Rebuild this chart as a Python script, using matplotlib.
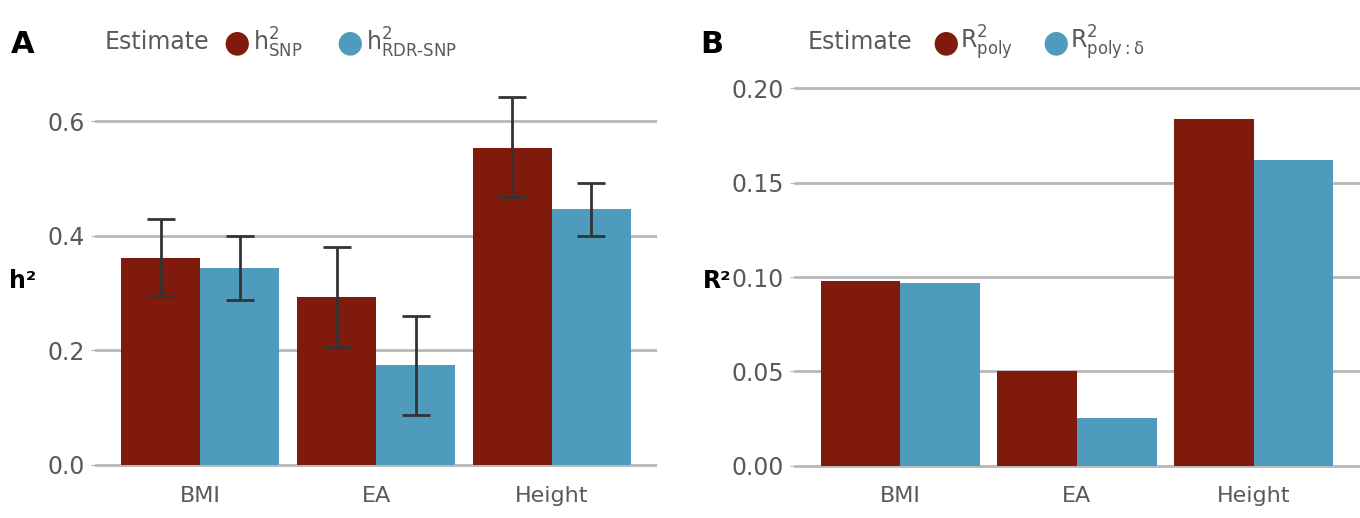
import matplotlib.pyplot as plt
import numpy as np

# ── Data ─────────────────────────────────────────────────────
traits = ["BMI", "EA", "Height"]

h2_snp     = [0.361, 0.293, 0.553]
h2_snp_lo  = [0.295, 0.206, 0.467]
h2_snp_hi  = [0.429, 0.380, 0.642]

h2_rdr     = [0.344, 0.174, 0.447]
h2_rdr_lo  = [0.288, 0.087, 0.399]
h2_rdr_hi  = [0.399, 0.260, 0.492]

r2_poly       = [0.098, 0.050, 0.184]
r2_poly_delta = [0.097, 0.025, 0.162]

RED  = "#801a0c"
BLUE = "#4f9bbd"
GREY = "#5a5a5a"
GRID = "#b8b8b8"

plt.rcParams["font.family"] = ["DejaVu Sans"]

fig = plt.figure(figsize=(13.6, 5.18), dpi=100)
axA = fig.add_axes([0.0699, 0.0676, 0.4132, 0.78])
axB = fig.add_axes([0.5838, 0.0676, 0.4162, 0.78])

x = np.arange(1, len(traits) + 1)
w = 0.45


def style(ax, ticks, labels, ylim):
    ax.set_xlim(0.4, 3.6)
    ax.set_ylim(*ylim)
    ax.set_yticks(ticks)
    ax.set_yticklabels(labels)
    ax.set_xticks(x)
    ax.set_xticklabels(traits)
    for t in ticks:
        ax.axhline(t, color=GRID, lw=2, zorder=0)
    for s in ax.spines.values():
        s.set_visible(False)
    ax.tick_params(axis="y", length=3, color=GRID, labelsize=17, labelcolor=GREY, pad=4)
    ax.tick_params(axis="x", length=0, labelsize=16, labelcolor=GREY, pad=2)


# ── Panel A ──────────────────────────────────────────────────
axA.bar(x - w / 2, h2_snp, w, color=RED, zorder=2)
axA.bar(x + w / 2, h2_rdr, w, color=BLUE, zorder=2)
err_snp = [np.array(h2_snp) - np.array(h2_snp_lo), np.array(h2_snp_hi) - np.array(h2_snp)]
err_rdr = [np.array(h2_rdr) - np.array(h2_rdr_lo), np.array(h2_rdr_hi) - np.array(h2_rdr)]
axA.errorbar(x - w / 2, h2_snp, yerr=err_snp, fmt="none", ecolor="#333333",
             elinewidth=2, capsize=10, capthick=2, zorder=3)
axA.errorbar(x + w / 2, h2_rdr, yerr=err_rdr, fmt="none", ecolor="#333333",
             elinewidth=2, capsize=10, capthick=2, zorder=3)
style(axA, [0.0, 0.2, 0.4, 0.6], ["0.0", "0.2", "0.4", "0.6"], (-0.032, 0.674))
axA.set_ylabel("h²", rotation=0, fontsize=17, fontweight="bold", labelpad=18, va="center")

# ── Panel B ──────────────────────────────────────────────────
axB.bar(x - w / 2, r2_poly, w, color=RED, zorder=2)
axB.bar(x + w / 2, r2_poly_delta, w, color=BLUE, zorder=2)
style(axB, [0.0, 0.05, 0.10, 0.15, 0.20], ["0.00", "0.05", "0.10", "0.15", "0.20"],
      (-0.0092, 0.205))
axB.yaxis.set_label_coords(-0.135, 0.49)
axB.set_ylabel("R²", rotation=0, fontsize=17, fontweight="bold", va="center")

# ── Panel letters and legends ────────────────────────────────
fig.text(0.008, 0.915, "A", fontsize=22, fontweight="bold", va="center")
fig.text(0.515, 0.915, "B", fontsize=22, fontweight="bold", va="center")

ly = 0.918
fig.text(0.077, ly, "Estimate", fontsize=17, color=GREY, va="center")
for xp, col in [(0.174, RED), (0.257, BLUE), (0.695, RED), (0.776, BLUE)]:
    fig.text(xp, ly, "●", fontsize=22, color=col, va="center", ha="center")
fig.text(0.186, ly, r"$\mathregular{h^2_{SNP}}$", fontsize=17, color=GREY, va="center")
fig.text(0.269, ly, r"$\mathregular{h^2_{RDR\text{-}SNP}}$", fontsize=17, color=GREY, va="center")
fig.text(0.594, ly, "Estimate", fontsize=17, color=GREY, va="center")
fig.text(0.706, ly, r"$\mathregular{R^2_{poly}}$", fontsize=17, color=GREY, va="center")
fig.text(0.787, ly, r"$\mathregular{R^2_{poly:\delta}}$", fontsize=17, color=GREY, va="center")

fig.savefig("out.png", dpi=100)
